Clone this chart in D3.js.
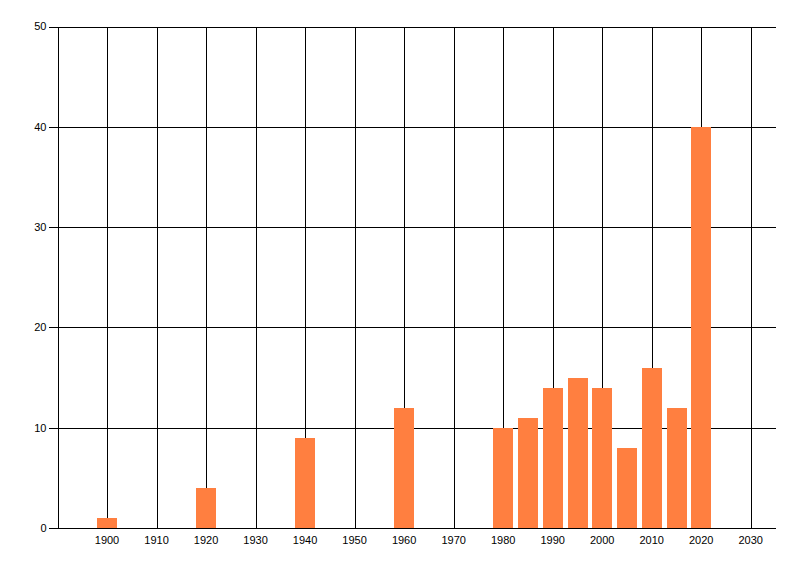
<!DOCTYPE html>
<html><head><meta charset="utf-8">
<script src="https://cdn.jsdelivr.net/npm/d3@7"></script>
<style>body{margin:0;background:#fff;} text{font-family:"Liberation Sans",Arial,sans-serif;font-size:11px;fill:#000;} line,rect{shape-rendering:crispEdges;}</style>
</head><body><svg id="c" width="800" height="576"></svg>
<script>
const years = [1900, 1920, 1940, 1960, 1980, 1985, 1990, 1995, 2000, 2005, 2010, 2015, 2020];
const counts = [1, 4, 9, 12, 10, 11, 14, 15, 14, 8, 16, 12, 40];
const xTicks = [1900, 1910, 1920, 1930, 1940, 1950, 1960, 1970, 1980, 1990, 2000, 2010, 2020, 2030];
const yTicks = [0, 10, 20, 30, 40, 50];

const svg = d3.select("#c");
const L = 57.5, R = 775.5, T = 26.5, B = 528;
const x = d3.scaleLinear().domain([1890, 2035]).range([L, R]);
const y = d3.scaleLinear().domain([0, 50]).range([B, T]);
const px = v => Math.round(v) + 0.5;
const barW = x(1904) - x(1900);

svg.append("g").selectAll("line").data(xTicks).join("line")
  .attr("x1", d => px(x(d))).attr("x2", d => px(x(d))).attr("y1", px(T)).attr("y2", px(B))
  .attr("stroke", "#000").attr("stroke-width", 1);
svg.append("g").selectAll("line").data(yTicks).join("line")
  .attr("x1", L - 9).attr("x2", R).attr("y1", d => px(y(d))).attr("y2", d => px(y(d)))
  .attr("stroke", "#000").attr("stroke-width", 1);
svg.append("line").attr("x1", px(L)).attr("x2", px(L)).attr("y1", px(T)).attr("y2", px(B)).attr("stroke", "#000");

svg.append("g").selectAll("rect").data(years).join("rect")
  .attr("x", d => Math.round(x(d) - barW / 2)).attr("width", Math.round(barW))
  .attr("y", (d, i) => Math.round(y(counts[i]))).attr("height", (d, i) => Math.round(y(0)) - Math.round(y(counts[i])))
  .attr("fill", "#FF7F40");

svg.append("line").attr("x1", L).attr("x2", R).attr("y1", px(B)).attr("y2", px(B)).attr("stroke", "#000");

svg.append("g").selectAll("text").data(yTicks).join("text")
  .attr("x", L - 11).attr("y", d => y(d)).attr("dy", "0.35em").attr("text-anchor", "end").text(d => d);
svg.append("g").selectAll("text").data(xTicks).join("text")
  .attr("x", d => x(d)).attr("y", B + 16).attr("text-anchor", "middle").text(d => d);
</script></body></html>
